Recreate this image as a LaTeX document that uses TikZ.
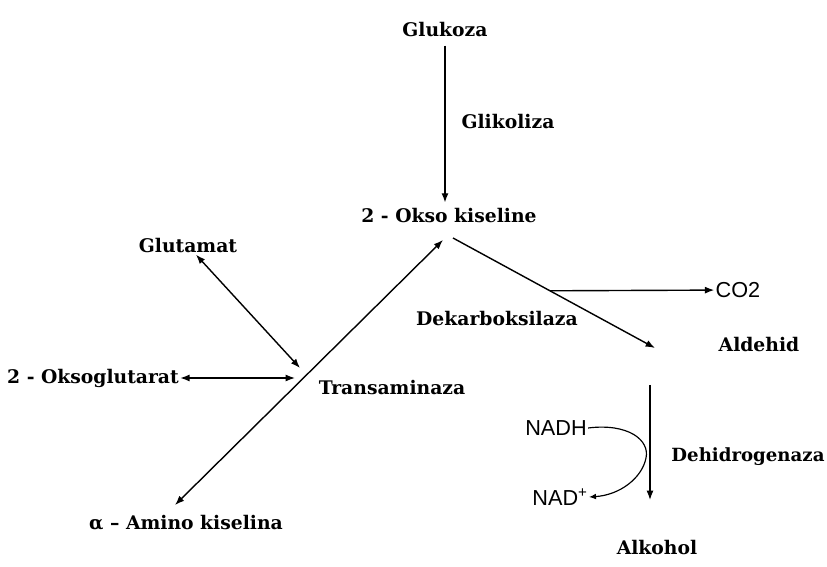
\documentclass[tikz,border=0pt]{standalone}
\usepackage{fontspec}
\setmainfont{DejaVu Serif}
\newfontfamily\arialfont{Liberation Sans}
\usetikzlibrary{arrows.meta}
\begin{document}
\begin{tikzpicture}[x=0.03cm,y=-0.03cm,
  every node/.style={font=\fontsize{16}{19}\selectfont\bfseries,inner sep=1pt},
  sans/.style={font=\fontsize{18.5}{21}\selectfont\arialfont},
  arr/.style={-{Latex[length=8pt,width=6pt]},line width=1.2pt},
  darr/.style={{Latex[length=8pt,width=6pt]}-{Latex[length=8pt,width=6pt]},line width=1.2pt}]
\useasboundingbox (0,0) rectangle (827,567);
% labels
\node (glu) at (445,30) {Glukoza};
\node (gli) at (508,122) {Glikoliza};
\node (okso) at (449,216) {2 - Okso kiseline};
\node (glut) at (188,246) {Glutamat};
\node (oglu) at (93,378) {2 - Oksoglutarat};
\node (tra) at (392,388) {Transaminaza};
\node (ami) at (186,523) {α – Amino kiselina};
\node[sans] (co2) at (738,290) {CO2};
\node (dek) at (497,319) {Dekarboksilaza};
\node (ald) at (759,345) {Aldehid};
\node[sans] (nadh) at (556,428) {NADH};
\node[sans] (nad) at (560,497) {NAD\textsuperscript{+}};
\node[font=\fontsize{15.5}{19}\selectfont\bfseries] (deh) at (748,457) {Dehidrogenaza};
\node (alk) at (657,548) {Alkohol};
% arrow ends
\coordinate (oktip) at (443,240);
\coordinate (amtip) at (175,505);
\coordinate (j1) at (300,368);
\coordinate (j2) at (295,378);
\coordinate (dk0) at (453,238);
\coordinate (dk1) at (655,348);
\coordinate (dh0) at (650,385);
\coordinate (dh1) at (650,500);
\path (dk0) -- (dk1) coordinate[pos=0.48] (br);
\draw[arr,shorten <=6pt,shorten >=4pt] (glu.south) -- (glu.south |- okso.north);
\foreach \u/\v in {amtip/oktip,glut/j1,oglu/j2}
  \draw[darr] (\u) -- (\v);
\foreach \u/\v in {dk0/dk1,br/co2,dh0/dh1}
  \draw[arr] (\u) -- (\v);
\draw[-{Latex[length=6pt,width=5pt]},line width=1pt] (nadh.east) .. controls (628,423) and (650,440) .. (646,458)
  .. controls (642,478) and (620,495) .. (nad.east);
\end{tikzpicture}
\end{document}
